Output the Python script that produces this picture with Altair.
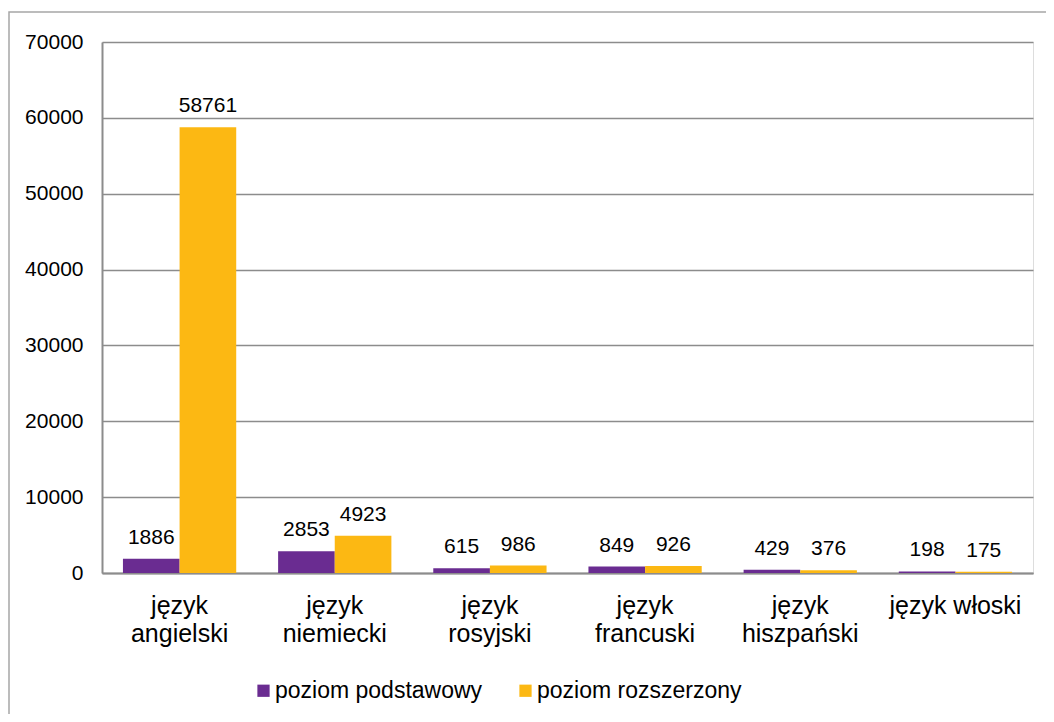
import altair as alt
import pandas as pd

categories = ["język angielski", "język niemiecki", "język rosyjski",
              "język francuski", "język hiszpański", "język włoski"]
series = ["poziom podstawowy", "poziom rozszerzony"]
podstawowy = [1886, 2853, 615, 849, 429, 198]
rozszerzony = [58761, 4923, 986, 926, 376, 175]
y_ticks = [0, 10000, 20000, 30000, 40000, 50000, 60000, 70000]
colors = ["#6A2C91", "#FCB813"]

rows = []
for i, c in enumerate(categories):
    rows.append({"jezyk": c, "poziom": series[0], "liczba": podstawowy[i],
                 "etykieta": str(podstawowy[i])})
    rows.append({"jezyk": c, "poziom": series[1], "liczba": rozszerzony[i],
                 "etykieta": str(rozszerzony[i])})
df = pd.DataFrame(rows)

FONT = "Liberation Sans"
GRAY = "#8c8c8c"

x_enc = alt.X(
    "jezyk:N", sort=categories,
    scale=alt.Scale(paddingInner=0.27, paddingOuter=0.135),
    axis=alt.Axis(title=None, labelAngle=0, labelFontSize=25, labelColor="black",
                  labelFont=FONT, labelPadding=20, labelLineHeight=28,
                  labelExpr="length(datum.label) > 12 ? split(datum.label, ' ') : datum.label",
                  domainColor=GRAY, domainWidth=2, ticks=False, labelLimit=0,
                  labelOverlap=False, grid=False),
)
xoff = alt.XOffset("poziom:N", sort=series)
y_enc = alt.Y(
    "liczba:Q",
    scale=alt.Scale(domain=[0, 70000], nice=False),
    axis=alt.Axis(title=None, values=y_ticks, format="d", labelFontSize=21,
                  labelColor="black", labelFont=FONT, labelPadding=19,
                  gridColor=GRAY, gridWidth=1.3, domainColor=GRAY, domainWidth=2,
                  ticks=False),
)

base = alt.Chart(df)

bars = base.mark_bar().encode(
    x=x_enc, xOffset=xoff, y=y_enc,
    color=alt.Color(
        "poziom:N", sort=series,
        scale=alt.Scale(domain=series, range=colors),
        legend=alt.Legend(title=None, orient="none", legendX=150, legendY=637,
                          direction="horizontal", symbolType="square",
                          symbolSize=150, symbolStrokeWidth=0, symbolOpacity=1,
                          labelFontSize=23, labelFont=FONT, labelColor="black",
                          labelOffset=0, columnPadding=31, padding=0, labelLimit=0),
    ),
)

labels = base.mark_text(baseline="alphabetic", dy=-15, fontSize=21, font=FONT,
                        color="black").encode(
    x=x_enc, xOffset=xoff, y=y_enc, text="etykieta:N"
)

frame = alt.Chart(pd.DataFrame({"a": [0]})).mark_rect(
    filled=False, stroke="#a6a6a6", strokeWidth=1.5
).encode(
    x=alt.value(-93), x2=alt.value(980), y=alt.value(-30), y2=alt.value(700)
)

chart = alt.layer(frame, bars, labels).properties(
    width=931, height=531,
    autosize=alt.AutoSizeParams(type="none"),
    padding={"left": 94, "top": 34, "right": 13, "bottom": 141},
).configure_view(stroke="#1a1a1a", strokeWidth=2).configure(font=FONT)

chart.save("out.html", embed_options={"renderer": "svg", "actions": False})
